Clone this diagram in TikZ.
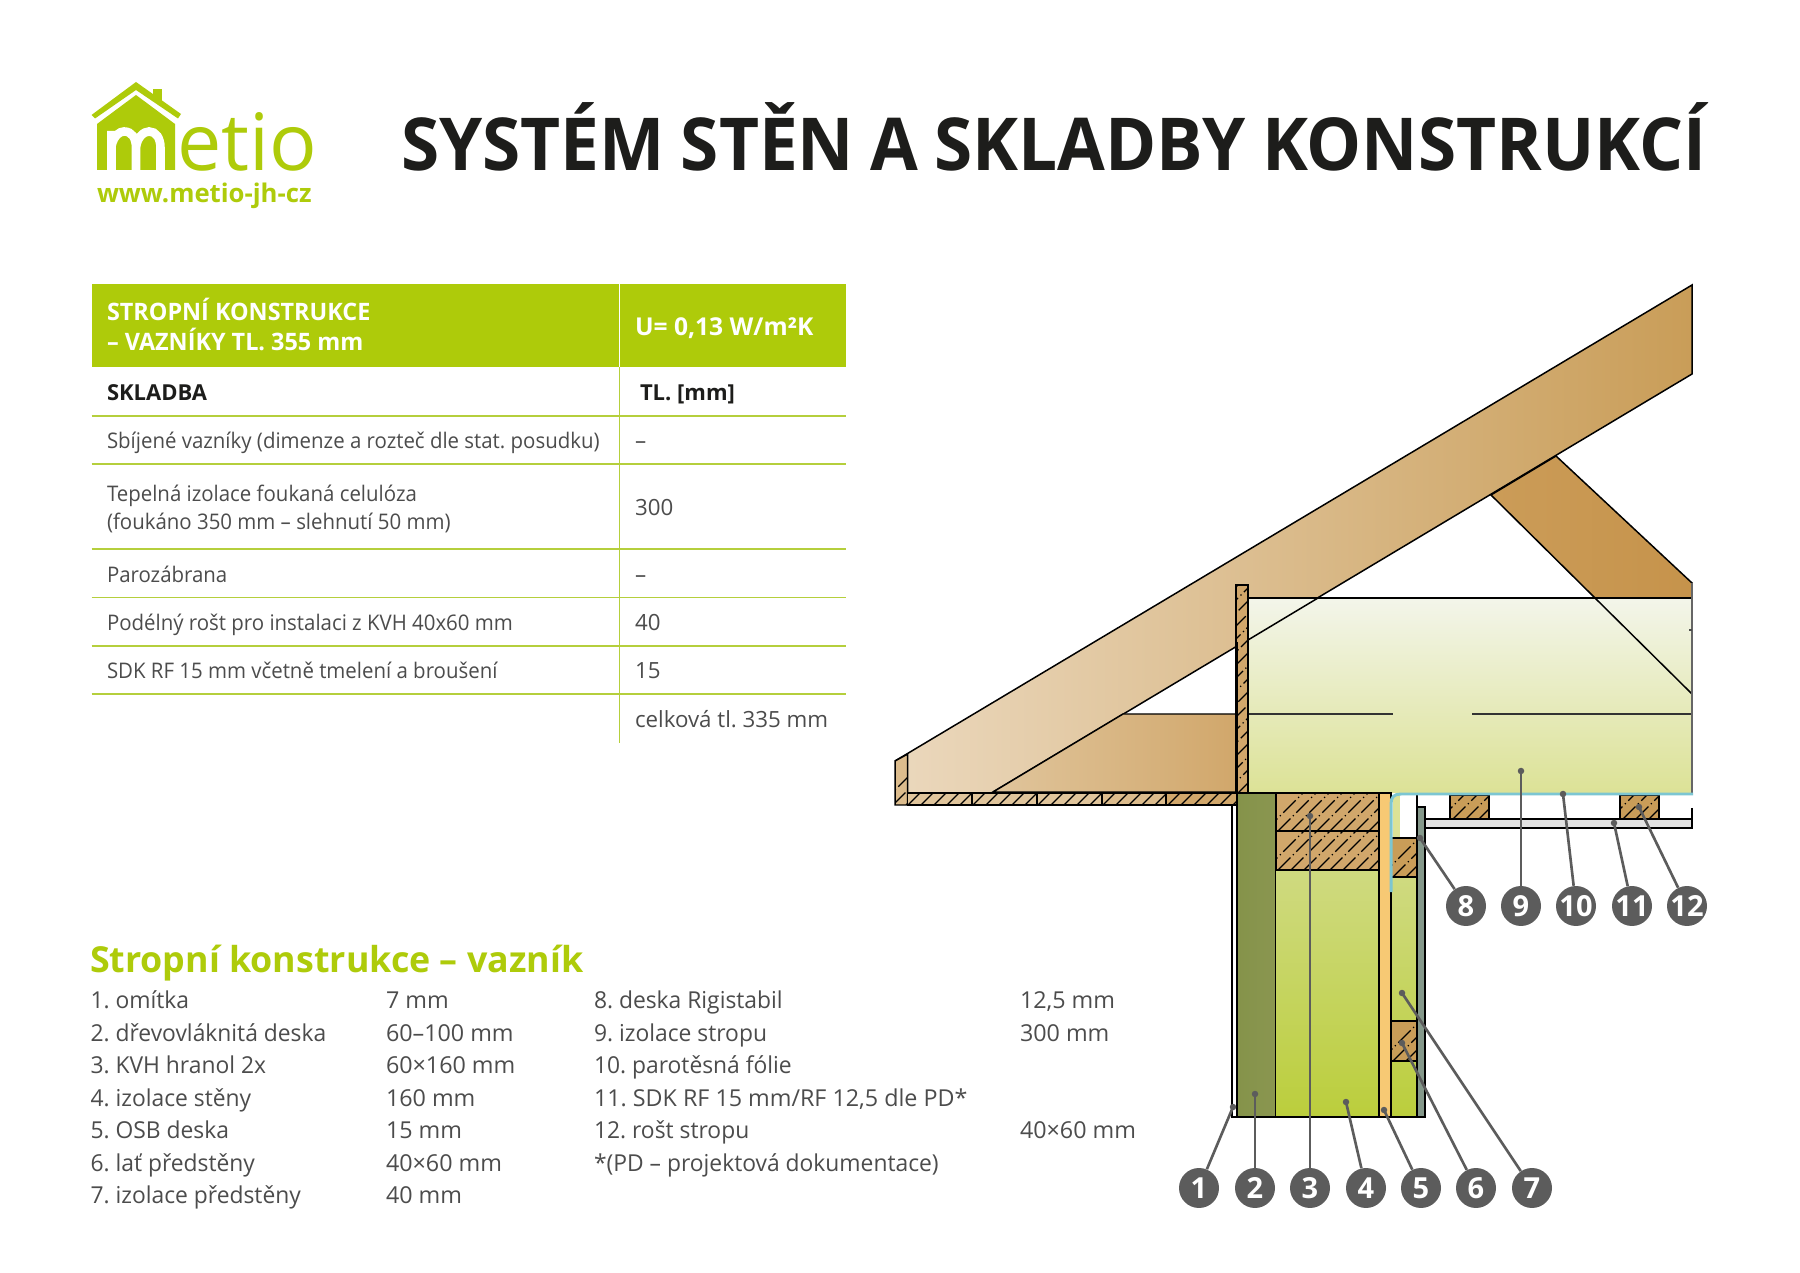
\documentclass[tikz,border=0pt]{standalone}
\usepackage{fontspec}
\setmainfont{Open Sans}
\newfontfamily\titlef[FakeStretch=0.949,WordSpace=0.9]{Open Sans}
\newfontfamily\tablef[FakeStretch=0.95]{Open Sans}
\newfontfamily\headf[FakeStretch=0.975]{Open Sans}
\newfontfamily\listf[FakeStretch=0.98]{Open Sans}
\frenchspacing
\definecolor{lime}{HTML}{AECB0A}
\definecolor{rulegreen}{HTML}{B5CF3C}
\definecolor{bodytext}{HTML}{4C4C4C}
\definecolor{darktext}{HTML}{1D1D1B}
\definecolor{leader}{HTML}{5C5C5C}
\definecolor{woodA}{HTML}{E0C59C}
\definecolor{woodB}{HTML}{D1A76B}
\definecolor{woodC}{HTML}{C99D58}
\definecolor{woodD}{HTML}{EBD8BD}
\definecolor{strutA}{HTML}{CB9C58}
\definecolor{strutB}{HTML}{C6934B}
\definecolor{insTop}{HTML}{F3F5EA}
\definecolor{insBot}{HTML}{DCE296}
\definecolor{fibA}{HTML}{85934A}
\definecolor{fibB}{HTML}{8A9650}
\definecolor{wallTop}{HTML}{CFDA80}
\definecolor{wallBot}{HTML}{BBCE3C}
\definecolor{osb}{HTML}{F7C974}
\definecolor{foil}{HTML}{7CC6D2}
\definecolor{rigi}{HTML}{84988A}
\definecolor{sdk}{HTML}{E3E3E3}
\newcommand{\fs}[1]{\pgfmathsetmacro\fsz{#1*0.5691}\fontsize{\fsz pt}{\fsz pt}\selectfont}
\newcommand{\wood}[5]{%
  \begin{scope}
    \clip #1;
    \fill[#5] #1;
    \foreach \k [evaluate=\k as \xx using #3+13*\k] in {0,...,#4}
      \draw[hatchline] (\xx,#2) -- ++(250,-250);
  \end{scope}
  \draw[edge] #1;
}
\tikzset{
  x=0.02cm,y=-0.02cm,
  edge/.style={draw=black,line width=0.85pt},
  hatchline/.style={black,line width=0.7pt,dash pattern=on 10pt off 2pt on 0.7pt off 2pt},
  txt/.style={anchor=base west,inner sep=0pt,outer sep=0pt,text=bodytext,font=\tablef\fs{21.5}},
  valtxt/.style={txt,font=\fs{22.3}},
  boldtxt/.style={txt,text=darktext,font=\bfseries\fs{22}},
  headtxt/.style={txt,text=white,font=\headf\bfseries\fs{24}},
  listtxt/.style={txt,font=\fs{23.3}},
  labtxt/.style={txt,font=\listf\fs{23.3}},
  rowline/.style={draw=rulegreen,line width=1.1pt},
  lead/.style={draw=leader,line width=1.5pt},
  num/.style={circle,fill=leader,minimum size=0.8cm,inner sep=0pt,text=white,font=\bfseries\fs{29}},
  dotc/.style={circle,fill=leader,minimum size=0.13cm,inner sep=0pt},
}
\begin{document}
\begin{tikzpicture}
\useasboundingbox (0,0) rectangle (1800,1273);
\fill[white] (0,0) rectangle (1800,1273);

% ---------- logo
\fill[lime] (136,82) -- (181,114) -- (178,118.5) -- (136,90) -- (95,118.5) -- (91.5,115) -- cycle;
\fill[lime] (153,89) rectangle (162,101);
\fill[lime] (136,95) -- (175,124) -- (175,170) -- (97,170) -- (97,124) -- cycle;
\draw[white,line width=4.9pt] (111.5,171) -- (111.5,131)
   (111.5,146) .. controls (114,135) and (120,131.5) .. (124,131.5) .. controls (132,131.5) and (136,138) .. (136,148) -- (136,171)
   (136,148) .. controls (137,137) and (144,131.5) .. (149,131.5) .. controls (156,131.5) and (160.5,138) .. (160.5,148) -- (160.5,171);
\node[txt,text=lime,font=\fs{79}] (logoetio) at (177,171) {etio};
\node[txt,text=lime,font=\bfseries\fs{25.7}] (logourl) at (97,203) {www.metio-jh-cz};

% ---------- title
\node[txt,text=darktext,font=\titlef\bfseries\fs{73}] (title) at (401,171) {SYSTÉM STĚN A SKLADBY KONSTRUKCÍ};

% ---------- table
\fill[lime] (91.5,284.5) rectangle (846,367.5);
\draw[white,line width=1pt] (619.5,284.5) -- (619.5,367.5);
\foreach \y in {416,464,549,597.5,646,694}
  \draw[rowline] (91.5,\y) -- (846,\y);
\draw[rowline] (619.5,367.5) -- (619.5,743);
\node[headtxt] (h1) at (107,321) {STROPNÍ KONSTRUKCE};
\node[headtxt] (h2) at (107,351) {– VAZNÍKY TL. 355 mm};
\node[txt,text=white,font=\bfseries\fs{24.6}] (h3) at (635,336) {U= 0,13 W/m²K};
\node[boldtxt] (r0a) at (107,401) {SKLADBA};
\node[boldtxt] (r0b) at (640,401) {TL. [mm]};
\node[txt] (r1a) at (107,449) {Sbíjené vazníky (dimenze a rozteč dle stat. posudku)};
\node[valtxt] (r1b) at (635,449) {–};
\node[txt] (r2a) at (107,502) {Tepelná izolace foukaná celulóza};
\node[txt] (r2c) at (107,530) {(foukáno 350 mm – slehnutí 50 mm)};
\node[valtxt] (r2b) at (635,516) {300};
\node[txt] (r3a) at (107,583) {Parozábrana};
\node[valtxt] (r3b) at (635,583) {–};
\node[txt] (r4a) at (107,631) {Podélný rošt pro instalaci z KVH 40x60 mm};
\node[valtxt] (r4b) at (635,631) {40};
\node[txt] (r5a) at (107,679) {SDK RF 15 mm včetně tmelení a broušení};
\node[valtxt] (r5b) at (635,679) {15};
\node[valtxt] (r6b) at (635,728) {celková tl. 335 mm};

% ---------- legend
\node[txt,text=lime,font=\bfseries\fs{35.8}] (legendhead) at (90,972) {Stropní konstrukce – vazník};
\node[labtxt] (a1) at (90.5,1008) {1. omítka};
\node[labtxt] (a2) at (90.5,1041) {2. dřevovláknitá deska};
\node[labtxt] (a3) at (90.5,1073.5) {3. KVH hranol 2x};
\node[labtxt] (a4) at (90.5,1106) {4. izolace stěny};
\node[labtxt] (a5) at (90.5,1138.5) {5. OSB deska};
\node[labtxt] (a6) at (90.5,1171) {6. lať předstěny};
\node[labtxt] (a7) at (90.5,1203.5) {7. izolace předstěny};
\node[listtxt] (b1) at (386,1008) {7 mm};
\node[listtxt] (b2) at (386,1041) {60–100 mm};
\node[listtxt] (b3) at (386,1073.5) {60×160 mm};
\node[listtxt] (b4) at (386,1106) {160 mm};
\node[listtxt] (b5) at (386,1138.5) {15 mm};
\node[listtxt] (b6) at (386,1171) {40×60 mm};
\node[listtxt] (b7) at (386,1203.5) {40 mm};
\node[labtxt] (c1) at (594,1008) {8. deska Rigistabil};
\node[labtxt] (c2) at (594,1041) {9. izolace stropu};
\node[labtxt] (c3) at (594,1073.5) {10. parotěsná fólie};
\node[listtxt] (c4) at (594,1106) {11. SDK RF 15 mm/RF 12,5 dle PD*};
\node[labtxt] (c5) at (594,1138.5) {12. rošt stropu};
\node[labtxt] (c6) at (594,1171) {*(PD – projektová dokumentace)};
\node[listtxt] (d1) at (1020,1008) {12,5 mm};
\node[listtxt] (d2) at (1020,1041) {300 mm};
\node[listtxt] (d5) at (1020,1138.5) {40×60 mm};

% ---------- roof timber
\shade[left color=woodD,right color=woodC] (895,761) -- (1692,285) -- (1692,374) -- (993,792) -- (907,792) -- cycle;
\draw[edge] (895,761) -- (1692,285) -- (1692,374) -- (993,792);
\path[edge,left color=strutA,right color=strutB] (1491,495) -- (1556,456) -- (1692,583) -- (1692,598) -- (1595,598) -- cycle;
\path[edge,left color=woodA,right color=woodB] (993,792) -- (1123,714) -- (1236,714) -- (1236,792) -- cycle;

% ---------- ceiling insulation
\shade[top color=insTop,bottom color=insBot] (1248,598) rectangle (1692,793);
\draw[edge] (1248,598) -- (1692,598);
\draw[edge] (1248,640) -- (1318,598);
\draw[edge] (1595,598) -- (1692,694);
\draw[line width=1.1pt,black!80] (1236,714) -- (1393,714) (1472,714) -- (1692,714);
\draw[black!60,line width=1pt] (1692,583) -- (1692,793);
\draw[black!70,line width=0.7pt] (1689,630) -- (1692,630);

% ---------- eave boards
\wood{(895,761) -- (907.7,754) -- (907.7,805) -- (895,805) -- cycle}{805}{880}{6}{woodA!70!woodB}
\wood{(907.7,793) rectangle (972,805)}{805}{895}{7}{woodA}
\wood{(972,793) rectangle (1037,805)}{805}{960}{7}{woodA}
\wood{(1037,793) rectangle (1102,805)}{805}{1025}{7}{woodA}
\wood{(1102,793) rectangle (1166,805)}{805}{1090}{7}{woodA!70!woodB}
\wood{(1166,793) rectangle (1237,805)}{805}{1155}{7}{woodB}
\wood{(1236,585) rectangle (1248,793)}{793}{1030}{18}{woodB}
\draw[black,line width=1.6pt] (1237,642) -- (1237,793);

% ---------- wall layers
\draw[edge,fill=white] (1232,805) rectangle (1237,1117);
\path[edge,left color=fibA,right color=fibB] (1237,793) rectangle (1275.5,1117);
\path[edge,top color=wallTop,bottom color=wallBot] (1275.5,870) rectangle (1379,1117);
\wood{(1276,793) rectangle (1379,831)}{831}{1265}{12}{woodB}
\wood{(1276,831) rectangle (1379,870)}{870}{1265}{12}{woodB}
\path[edge,fill=osb] (1379,793) rectangle (1391,1117);
% service gap behind the lining
\fill[insBot] (1393,795) rectangle (1400,838);
\path[edge,top color=wallTop,bottom color=wallBot] (1391,877) rectangle (1417,1117);
\wood{(1391,838) rectangle (1417,877)}{877}{1380}{7}{woodC}
\wood{(1391,1021) rectangle (1417,1061)}{1061}{1380}{7}{woodC}
\draw[edge] (1417,793) -- (1417,807);
\path[edge,fill=rigi] (1417,807) rectangle (1425,1117);
% ceiling lining and battens
\path[edge,fill=sdk] (1425,819) rectangle (1692,828);
\draw[edge] (1692,808) -- (1692,819);
\wood{(1450,795) rectangle (1489,819)}{819}{1440}{7}{woodC}
\wood{(1620,795) rectangle (1659,819)}{819}{1610}{7}{woodC}
\draw[edge] (1248,793) -- (1392,793);
% vapour foil
\draw[foil,line width=1.7pt] (1391,892) -- (1391,804) .. controls (1391,797) and (1394,794) .. (1401,794) -- (1693,794);

% ---------- callouts
\foreach \n/\x/\y in {1/1199/1188,2/1255/1188,3/1310/1188,4/1366/1188,5/1421/1188,6/1476/1188,7/1532/1188,
                      8/1466/906,9/1521/906,10/1576/906,11/1632/906,12/1687/906}
  \node[num] (n\n) at (\x,\y) {\n};
\foreach \n/\x/\y in {1/1233/1107,2/1255/1094,3/1310/816,4/1346/1102,5/1384/1110,6/1402/1043,7/1402/993,
                      8/1420/838,9/1521/771,10/1563/794,11/1614/823,12/1639/807}{
  \node[dotc] (p\n) at (\x,\y) {};
  \draw[lead] (p\n.center) -- (n\n);
}
\end{tikzpicture}
\end{document}
